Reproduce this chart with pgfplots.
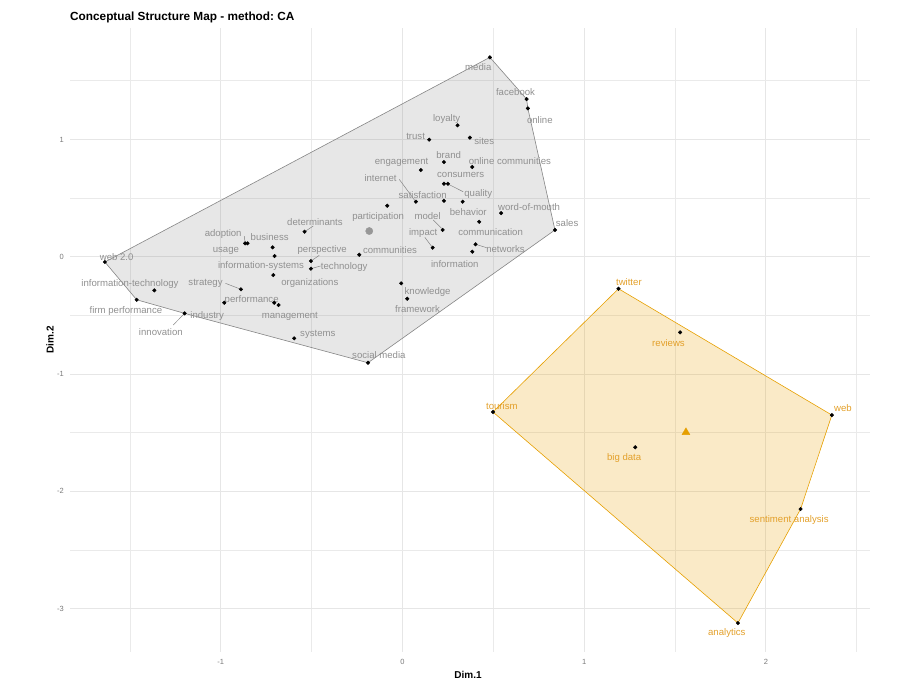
\documentclass[border=0pt]{standalone}
\usepackage{pgfplots}
\pgfplotsset{compat=1.18}
\usepackage{fontspec}
\setmainfont{Liberation Sans}
\frenchspacing
\definecolor{c1}{HTML}{858585}
\definecolor{c1t}{HTML}{909090}
\definecolor{c2}{HTML}{E69F00}
\definecolor{c2t}{HTML}{E3A02A}
\definecolor{gridc}{HTML}{E6E6E6}
\definecolor{tickc}{HTML}{7A7A7A}
\tikzset{
  l1/.style={font=\fontsize{9.6}{10}\selectfont, text=c1t, inner sep=0pt},
  l2/.style={font=\fontsize{9.6}{10}\selectfont, text=c2t, inner sep=0pt},
}
\begin{document}
\begin{tikzpicture}
\path[use as bounding box] (-70pt,-31pt) rectangle (840pt,652pt);
\begin{axis}[
  at={(0pt,0pt)}, anchor=south west,
  scale only axis, width=800pt, height=624pt,
  xmin=-1.830, xmax=2.573, ymin=-3.370, ymax=1.950,
  xtick={-1,0,1,2}, ytick={-3,-2,-1,0,1},
  minor xtick={-1.5,-0.5,0.5,1.5,2.5},
  minor ytick={-2.5,-1.5,-0.5,0.5,1.5},
  grid=both,
  major grid style={gridc, line width=0.8pt},
  minor grid style={gridc!85, line width=0.7pt},
  axis line style={draw=none},
  major tick length=0pt, minor tick length=0pt,
  /pgf/number format/assume math mode=true,
  ticklabel style={font=\fontsize{7.5}{8}\selectfont, text=tickc, inner sep=0pt},
  xticklabel style={anchor=north, yshift=-7pt},
  yticklabel style={anchor=east, xshift=-6pt},
  clip=false,
]
% cluster hulls
\addplot[draw=c1, line width=0.6pt, fill=c1, fill opacity=0.2] coordinates {
 (-1.638,-0.045) (0.481,1.700) (0.683,1.344) (0.690,1.265) (0.839,0.228)
 (-0.190,-0.904) (-1.199,-0.483) (-1.463,-0.367)} -- cycle;
\addplot[draw=c2, line width=0.6pt, fill=c2, fill opacity=0.22] coordinates {
 (1.189,-0.273) (2.363,-1.350) (2.191,-2.151) (1.846,-3.123) (0.498,-1.324)} -- cycle;

% leader lines
\addplot[c1, line width=0.5pt] coordinates {(-0.018,0.660) (0.070,0.475)};
\addplot[c1, line width=0.5pt] coordinates {(0.254,0.617) (0.334,0.554)};
\addplot[c1, line width=0.5pt] coordinates {(0.169,0.313) (0.221,0.234)};
\addplot[c1, line width=0.5pt] coordinates {(0.123,0.165) (0.163,0.083)};
\addplot[c1, line width=0.5pt] coordinates {(0.402,0.106) (0.463,0.077)};
\addplot[c1, line width=0.5pt] coordinates {(-0.539,0.213) (-0.491,0.262)};
\addplot[c1, line width=0.5pt] coordinates {(-0.504,-0.037) (-0.458,0.012)};
\addplot[c1, line width=0.5pt] coordinates {(-0.504,-0.102) (-0.451,-0.079)};
\addplot[c1, line width=0.5pt] coordinates {(-0.974,-0.227) (-0.889,-0.278)};
\addplot[c1, line width=0.5pt] coordinates {(-1.262,-0.582) (-1.199,-0.483)};
\addplot[c1, line width=0.5pt] coordinates {(-0.871,0.175) (-0.866,0.120)};

% points cluster 1
\addplot[only marks, mark=*, mark size=1.8pt, black] coordinates {
 (0.481,1.700) (0.683,1.344) (0.690,1.265) (0.303,1.120) (0.147,0.998)
 (0.371,1.015) (0.228,0.807) (0.384,0.765) (0.101,0.739) (0.228,0.622)
 (0.250,0.622) (-0.084,0.435) (0.074,0.469) (0.228,0.477) (0.331,0.469)
 (0.422,0.298) (0.543,0.372) (0.839,0.228) (0.221,0.228) (-0.539,0.213)
 (-0.238,0.017) (-0.504,-0.037) (-0.504,-0.102) (0.166,0.077) (0.402,0.106)
 (0.384,0.043) (-0.007,-0.227) (0.026,-0.358) (-0.190,-0.904) (-1.638,-0.045)
 (-1.366,-0.287) (-1.463,-0.367) (-1.199,-0.483) (-0.981,-0.392) (-0.706,-0.392)
 (-0.682,-0.412) (-0.889,-0.278) (-0.866,0.114) (-0.853,0.114) (-0.715,0.080)
 (-0.704,0.006) (-0.711,-0.156) (-0.596,-0.696)};
% points cluster 2
\addplot[only marks, mark=*, mark size=1.8pt, black] coordinates {
 (1.189,-0.273) (1.528,-0.645) (0.498,-1.324) (2.363,-1.350)
 (1.281,-1.625) (2.191,-2.151) (1.846,-3.123)};
% centroids
\addplot[only marks, mark=*, mark size=3.6pt, color=c1!85] coordinates {(-0.183,0.219)};
\addplot[only marks, mark=triangle*, mark size=4.5pt, color=c2] coordinates {(1.560,-1.497)};

% labels cluster 1
\node[l1] at (axis cs:0.417,1.620) {media};
\node[l1] at (axis cs:0.622,1.402) {facebook};
\node[l1] at (axis cs:0.756,1.165) {online};
\node[l1] at (axis cs:0.243,1.174) {loyalty};
\node[l1] at (axis cs:0.072,1.029) {trust};
\node[l1] at (axis cs:0.450,0.989) {sites};
\node[l1] at (axis cs:0.254,0.870) {brand};
\node[l1] at (axis cs:0.591,0.818) {online communities};
\node[l1] at (axis cs:-0.005,0.807) {engagement};
\node[l1] at (axis cs:0.320,0.699) {consumers};
\node[l1] at (axis cs:-0.121,0.668) {internet};
\node[l1] at (axis cs:0.111,0.526) {satisfaction};
\node[l1] at (axis cs:0.417,0.532) {quality};
\node[l1] at (axis cs:0.697,0.426) {word-of-mouth};
\node[l1] at (axis cs:0.362,0.381) {behavior};
\node[l1] at (axis cs:-0.134,0.338) {participation};
\node[l1] at (axis cs:0.138,0.347) {model};
\node[l1] at (axis cs:0.906,0.285) {sales};
\node[l1] at (axis cs:0.114,0.199) {impact};
\node[l1] at (axis cs:0.485,0.210) {communication};
\node[l1] at (axis cs:-0.482,0.298) {determinants};
\node[l1] at (axis cs:-0.442,0.057) {perspective};
\node[l1] at (axis cs:-0.069,0.057) {communities};
\node[l1] at (axis cs:0.567,0.066) {networks};
\node[l1] at (axis cs:0.288,-0.065) {information};
\node[l1] at (axis cs:-0.321,-0.085) {technology};
\node[l1] at (axis cs:-0.510,-0.227) {organizations};
\node[l1] at (axis cs:0.138,-0.303) {knowledge};
\node[l1] at (axis cs:0.083,-0.448) {framework};
\node[l1] at (axis cs:-0.130,-0.841) {social media};
\node[l1] at (axis cs:-0.466,-0.665) {systems};
\node[l1] at (axis cs:-0.620,-0.512) {management};
\node[l1] at (axis cs:-0.830,-0.369) {performance};
\node[l1] at (axis cs:-1.075,-0.506) {industry};
\node[l1] at (axis cs:-1.084,-0.227) {strategy};
\node[l1] at (axis cs:-0.779,-0.082) {information-systems};
\node[l1] at (axis cs:-0.972,0.049) {usage};
\node[l1] at (axis cs:-0.731,0.168) {business};
\node[l1] at (axis cs:-0.987,0.191) {adoption};
\node[l1] at (axis cs:-1.573,-0.005) {web 2.0};
\node[l1] at (axis cs:-1.500,-0.233) {information-technology};
\node[l1] at (axis cs:-1.522,-0.463) {firm performance};
\node[l1] at (axis cs:-1.330,-0.642) {innovation};
% labels cluster 2
\node[l2] at (axis cs:1.246,-0.216) {twitter};
\node[l2] at (axis cs:1.464,-0.733) {reviews};
\node[l2] at (axis cs:0.547,-1.270) {tourism};
\node[l2] at (axis cs:2.424,-1.287) {web};
\node[l2] at (axis cs:1.220,-1.714) {big data};
\node[l2] at (axis cs:2.128,-2.245) {sentiment analysis};
\node[l2] at (axis cs:1.785,-3.211) {analytics};
\end{axis}
\node[anchor=west, inner sep=0pt, font=\fontsize{11.8}{13}\selectfont\bfseries] at (0pt,635pt) {Conceptual Structure Map - method: CA};
\node[inner sep=0pt, font=\fontsize{10}{11}\selectfont\bfseries] at (398pt,-23pt) {Dim.1};
\node[inner sep=0pt, rotate=90, font=\fontsize{10}{11}\selectfont\bfseries] at (-20pt,312pt) {Dim.2};
\end{tikzpicture}
\end{document}
